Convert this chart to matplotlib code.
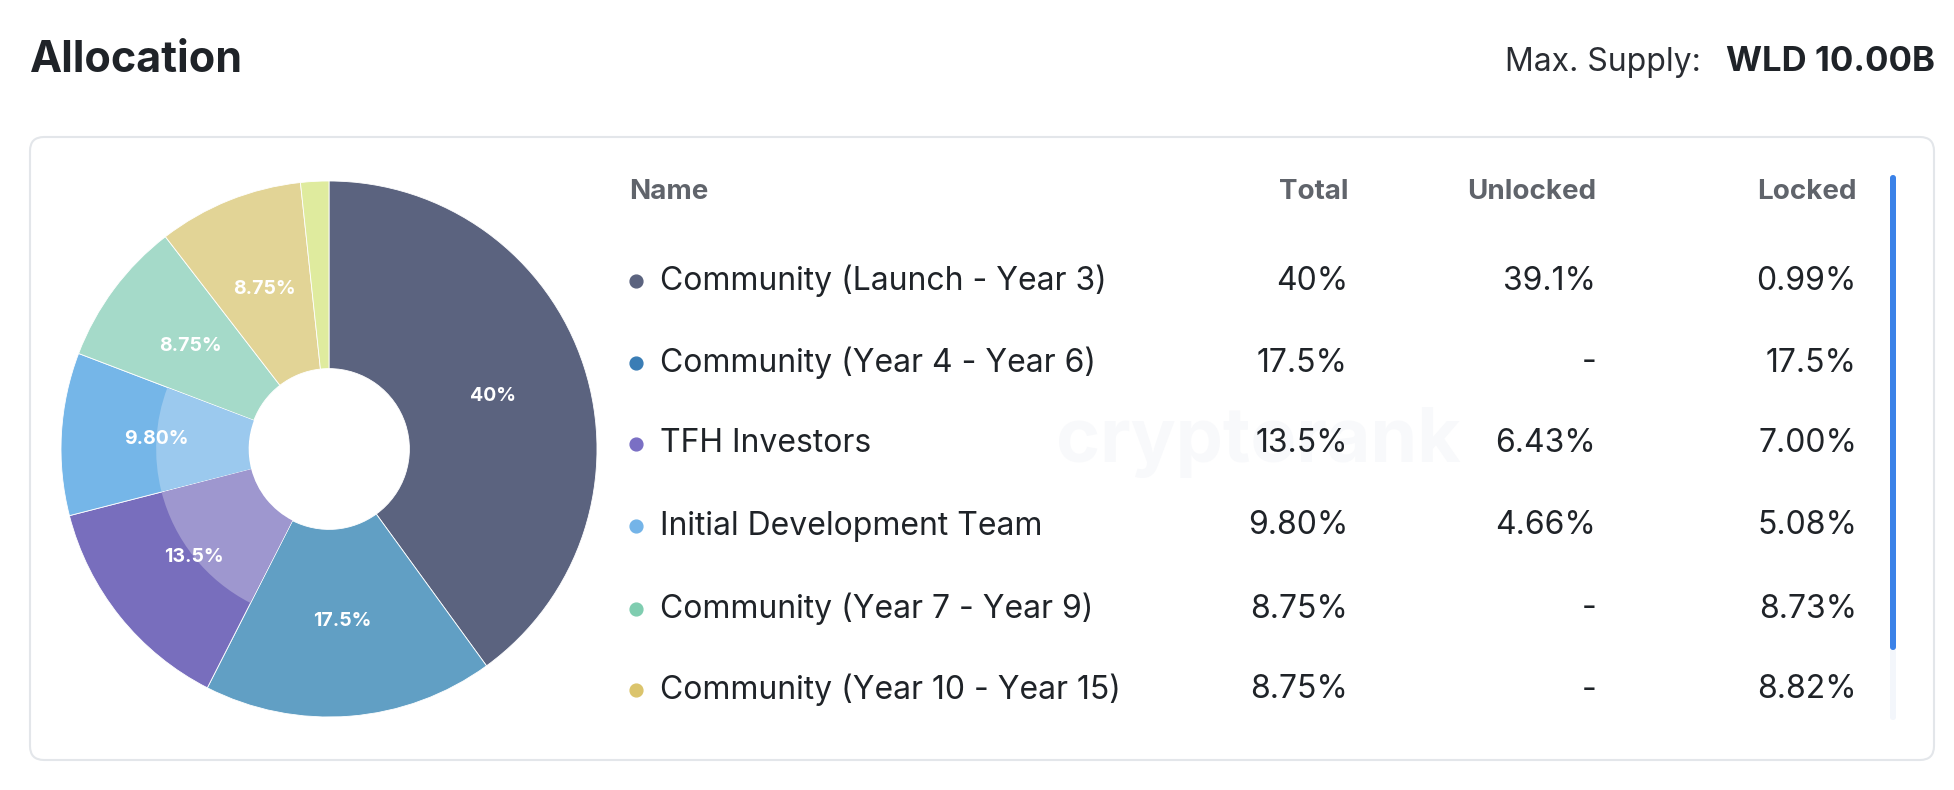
import numpy as np
import matplotlib.pyplot as plt
from matplotlib.patches import FancyBboxPatch, Wedge

plt.rcParams['font.family'] = ['Inter', 'DejaVu Sans']

# Datos de la asignacion
nombres = ['Community (Launch - Year 3)', 'Community (Year 4 - Year 6)', 'TFH Investors',
           'Initial Development Team', 'Community (Year 7 - Year 9)', 'Community (Year 10 - Year 15)']
total_pct = [40, 17.5, 13.5, 9.80, 8.75, 8.75]
total_txt = ['40%', '17.5%', '13.5%', '9.80%', '8.75%', '8.75%']
unlocked_txt = ['39.1%', '-', '6.43%', '4.66%', '-', '-']
locked_txt = ['0.99%', '17.5%', '7.00%', '5.08%', '8.73%', '8.82%']
resto_pct = 1.70  # resto de categorias (no visibles en la tabla)

colores_slice = ['#5b637f', '#619fc4', '#786ebd', '#75b6e8', '#a5dac9', '#e2d496', '#dfeb9e']
colores_claros = [None, None, '#9e97cf', '#9bc9ee', None, None, None]
colores_punto = ['#5b637f', '#3a7db5', '#7a6fc4', '#74b4e8', '#7fcdb0', '#dbc46c']

W, H = 1954, 790
fig = plt.figure(figsize=(W / 100, H / 100), dpi=100)

# Eje de fondo en pixeles (origen arriba a la izquierda)
bg = fig.add_axes([0, 0, 1, 1])
bg.set_xlim(0, W)
bg.set_ylim(H, 0)
bg.axis('off')

bg.text(30, 61, 'Allocation', fontsize=31, fontweight='bold', color='#1f2328', va='center')
bg.text(1701, 62, 'Max. Supply:', fontsize=23, color='#2a2d33', va='center', ha='right')
bg.text(1935, 62, 'WLD 10.00B', fontsize=25, fontweight='bold', color='#1f2328', va='center', ha='right')

card = FancyBboxPatch((30, 137), 1904, 623, boxstyle='round,pad=0,rounding_size=14',
                      facecolor='white', edgecolor='#e3e6ea', linewidth=1.5)
bg.add_patch(card)

# marca de agua
bg.text(1258, 442, 'cryptorank', fontsize=54, fontweight='bold', color='#f8f9fb',
        ha='center', va='center', zorder=1)

# Tabla
filas_y = [281, 363, 444, 526, 609, 690]
bg.text(629, 192, 'Name', fontsize=20, fontweight='bold', color='#60646b', va='center')
bg.text(1348, 192, 'Total', fontsize=20, fontweight='bold', color='#60646b', va='center', ha='right')
bg.text(1596, 192, 'Unlocked', fontsize=20, fontweight='bold', color='#60646b', va='center', ha='right')
bg.text(1857, 192, 'Locked', fontsize=20, fontweight='bold', color='#60646b', va='center', ha='right')

for y, nom, c, tt, ut, lt in zip(filas_y, nombres, colores_punto, total_txt, unlocked_txt, locked_txt):
    bg.scatter([636], [y], s=85, color=c, zorder=3)
    bg.text(660, y, nom, fontsize=23, color='#1f2328', va='center', zorder=3)
    bg.text(1348, y, tt, fontsize=23, color='#1f2328', va='center', ha='right', zorder=3)
    bg.text(1596, y, ut, fontsize=23, color='#1f2328', va='center', ha='right', zorder=3)
    bg.text(1857, y, lt, fontsize=23, color='#1f2328', va='center', ha='right', zorder=3)

# Barra de desplazamiento
bg.add_patch(FancyBboxPatch((1890, 175), 6, 545, boxstyle='round,pad=0,rounding_size=3',
                            facecolor='#f3f6fb', edgecolor='none'))
bg.add_patch(FancyBboxPatch((1890, 175), 6, 475, boxstyle='round,pad=0,rounding_size=3',
                            facecolor='#3b82e8', edgecolor='none'))

# Dona
cx, cy, R = 329, 449, 268
ax = fig.add_axes([(cx - R) / W, (H - cy - R) / H, 2 * R / W, 2 * R / H])
valores = total_pct + [resto_pct]
wedges, _ = ax.pie(valores, colors=colores_slice, startangle=90, counterclock=False,
                   radius=1, frame=True,
                   wedgeprops=dict(width=0.7, edgecolor='white', linewidth=0.6))
ax.set_xlim(-1, 1)
ax.set_ylim(-1, 1)
ax.set_aspect('equal')
ax.axis('off')

# Zona interior mas clara (efecto de resaltado)
for w, claro in zip(wedges, colores_claros):
    if claro:
        ax.add_patch(Wedge((0, 0), 0.645, w.theta1 + 0.15, w.theta2 - 0.15, width=0.345,
                           facecolor=claro, edgecolor='none', linewidth=0))

for w, txt in zip(wedges, total_txt):
    ang = np.deg2rad((w.theta1 + w.theta2) / 2)
    ax.text(0.645 * np.cos(ang), 0.645 * np.sin(ang), txt, color='white', fontsize=14,
            fontweight='bold', ha='center', va='center')

fig.savefig('out.png', dpi=100, facecolor='white')
